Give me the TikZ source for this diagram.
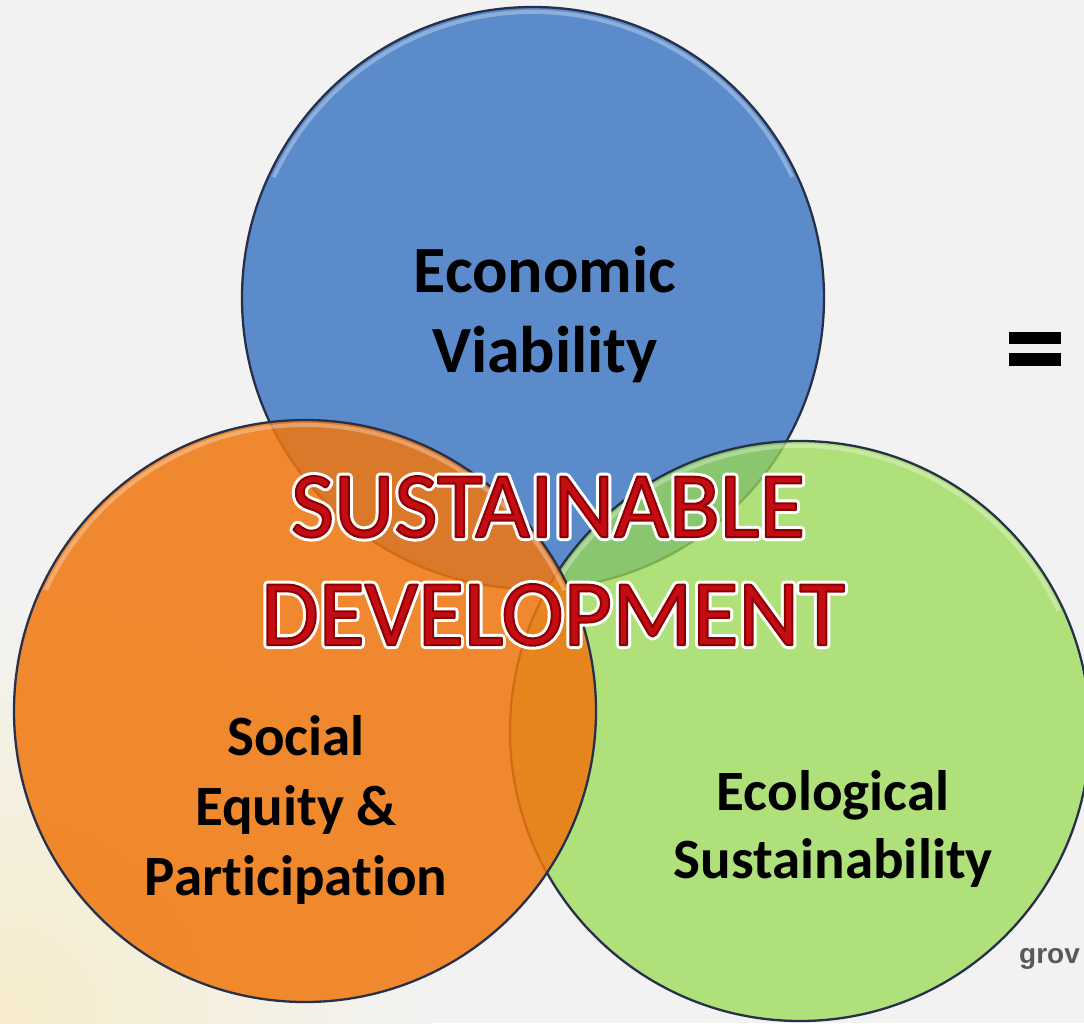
\documentclass[tikz,border=0pt]{standalone}
\usepackage{fontspec}
\setmainfont{Carlito}[Ligatures={NoCommon}]
\newfontfamily\grovfont{Liberation Sans}
\definecolor{bgc}{HTML}{F2F2F2}
\definecolor{cream}{HTML}{F6ECCB}
\definecolor{bluec}{RGB}{91,139,203}
\definecolor{greenc}{RGB}{154,218,82}
\definecolor{orangec}{RGB}{240,118,13}
\definecolor{rimc}{HTML}{27304A}
\definecolor{sdred}{HTML}{C40C14}
\definecolor{growc}{HTML}{595959}
\tikzset{
  circ/.style={draw=rimc, line width=2.3pt},
  rimlight/.style={draw=white, draw opacity=0.3, line width=4pt},
  bigbold/.style={font=\fontsize{66}{80}\selectfont\bfseries, text=black, inner sep=0pt, anchor=base},
  midbold/.style={font=\fontsize{57}{70}\selectfont\bfseries, text=black, inner sep=0pt, anchor=base},
  sdglow/.style={font=\fontsize{94}{108}\selectfont, text=white, inner sep=0pt, anchor=base},
  sdtext/.style={font=\fontsize{94}{108}\selectfont, text=sdred, inner sep=0pt, anchor=base},
}
\newcommand{\glowon}{\special{pdf:literal direct 2 Tr 8 w 1 j}}
\newcommand{\glowoff}{\special{pdf:literal direct 0 Tr 1 w}}
\newcommand{\redon}{\special{pdf:literal direct 2 Tr 2 w 1 j 0.55 0 0 RG}}
\begin{document}
\begin{tikzpicture}[x=1pt,y=-1pt]
\useasboundingbox (0,0) rectangle (1084,1023);
\fill[bgc] (0,0) rectangle (1084,1023);
\begin{scope}
\clip (0,0) rectangle (1084,1023);
\shade[inner color=cream, outer color=bgc] (0,1023) circle[radius=430pt];
% circles
\coordinate (cb) at (533,298);
\coordinate (cg) at (800,731);
\coordinate (co) at (305,711);
\path[circ, fill=bluec] (cb) circle[radius=291pt];
\path[rimlight] (cb) ++(25:286pt) arc[start angle=25, end angle=155, radius=286pt];
\path[circ, fill=greenc, fill opacity=0.75] (cg) circle[radius=290pt];
\path[rimlight] (cg) ++(25:285pt) arc[start angle=25, end angle=155, radius=285pt];
\path[circ, fill=orangec, fill opacity=0.85] (co) circle[radius=291pt];
\path[rimlight] (co) ++(25:286pt) arc[start angle=25, end angle=155, radius=286pt];
% labels
\node[bigbold] (econ1) at (545,292) {Economic};
\node[bigbold] (econ2) at (545,372) {Viability};
\node[midbold] (soc1) at (296,755) {Social};
\node[midbold] (soc2) at (296,825) {Equity \&};
\node[midbold] (soc3) at (296,895) {Participation};
\node[midbold] (eco1) at (833,810) {Ecological};
\node[midbold] (eco2) at (833,878) {Sustainability};
% central title
\node[sdglow] (sus1g) at (548,537) {\glowon SUSTAINABLE\glowoff};
\node[sdglow] (sus2g) at (553,645) {\glowon DEVELOPMENT\glowoff};
\node[sdtext] (sus1) at (548,537) {\redon SUSTAINABLE\glowoff};
\node[sdtext] (sus2) at (553,645) {\redon DEVELOPMENT\glowoff};
% equals sign
\fill[black] (1009,332) rectangle (1061,344);
\fill[black] (1009,353) rectangle (1061,366);
\node[font=\grovfont\bfseries\fontsize{28}{34}\selectfont, text=growc, inner sep=0pt, anchor=base west] (grow) at (1019,963) {grov};
\end{scope}
\end{tikzpicture}
\end{document}
